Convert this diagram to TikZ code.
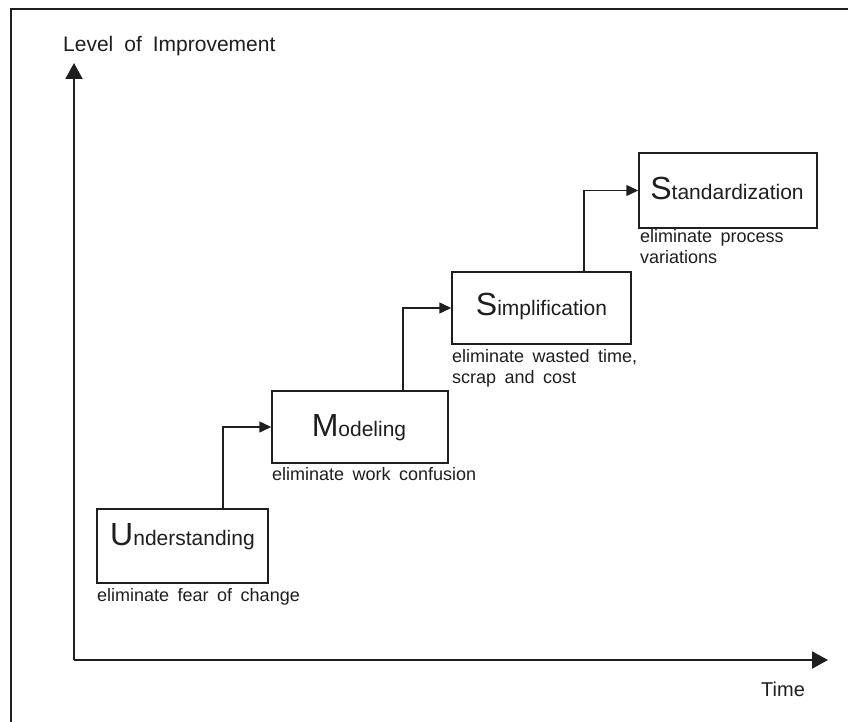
\documentclass[tikz,border=0pt]{standalone}
\usepackage{fontspec}
\setmainfont{Liberation Sans}
\usetikzlibrary{arrows.meta}
\definecolor{ink}{HTML}{1E1E1E}
\newcommand\capfirst[2]{{\fontsize{32}{34}\selectfont #1}#2}
\newcommand\notefont{\fontsize{18}{21}\selectfont\spaceskip 8.5pt plus 1pt\relax}
\newcommand\axfont{\fontsize{21}{24}\selectfont\spaceskip 11pt plus 1pt\relax}
\newcommand\timefont{\fontsize{20}{24}\selectfont}
\newcommand\titlefont{\fontsize{21}{24}\selectfont}
\tikzset{
  frameline/.style={line width=2pt, draw=ink},
  axis/.style={line width=2pt, draw=ink, -{Triangle[length=16pt,width=17pt]}},
  conn/.style={line width=1.5pt, draw=ink, -{Triangle[length=12pt,width=11pt]}},
  stagebox/.style={draw=ink, line width=1.5pt, rectangle, inner sep=0pt},
  stagetitle/.style={anchor=base, inner sep=0pt, text=ink, font=\titlefont},
  note/.style={anchor=base west, inner sep=0pt, text=ink, font=\notefont},
  axislabel/.style={anchor=base west, inner sep=0pt, text=ink, font=\axfont},
}
\begin{document}
\begin{tikzpicture}[x=1pt,y=-1pt]
\useasboundingbox (0,0) rectangle (848,722);
% partial outer frame
\coordinate (f1) at (11,730);
\coordinate (f2) at (11,9);
\coordinate (f3) at (856,9);
\draw[frameline] (f1) -- (f2) -- (f3);
% axes
\coordinate (O) at (74,660);
\coordinate (ytip) at (74,63);
\coordinate (xtip) at (828,660);
\draw[axis] (O) -- (ytip);
\draw[axis] (O) -- (xtip);
\node[axislabel] (ylab) at (63,52) {Level of Improvement};
\node[axislabel, font=\timefont] (xlab) at (761,696) {Time};
% stage boxes
\node[stagebox, minimum width=171pt, minimum height=74pt] (u) at (182.5,546) {};
\node[stagebox, minimum width=176pt, minimum height=72pt] (m) at (360,427) {};
\node[stagebox, minimum width=179pt, minimum height=72pt] (si) at (541.5,308) {};
\node[stagebox, minimum width=178pt, minimum height=75pt] (st) at (728,190.5) {};
% titles
\node[stagetitle] (ut) at (182.5,545) {\capfirst{U}{nderstanding}};
\node[stagetitle] (mt) at (359,436) {\capfirst{M}{odeling}};
\node[stagetitle] (sit) at (541.5,315) {\capfirst{S}{implification}};
\node[stagetitle] (stt) at (727,200) {\capfirst{S}{tandardization}};
% notes
\node[note] (un) at (97,601) {eliminate fear of change};
\node[note] (mn) at (272,480) {eliminate work confusion};
\node[note] (sin1) at (452,362) {eliminate wasted time,};
\node[note] (sin2) at (452,383) {scrap and cost};
\node[note] (stn1) at (640,242) {eliminate process};
\node[note] (stn2) at (640,263) {variations};
% connectors
\coordinate (c1) at (223,0);
\coordinate (c2) at (403,0);
\coordinate (c3) at (584,0);
\draw[conn] (u.north -| c1) |- (m.west);
\draw[conn] (m.north -| c2) |- (si.west);
\draw[conn] (si.north -| c3) |- (st.west);
\end{tikzpicture}
\end{document}
